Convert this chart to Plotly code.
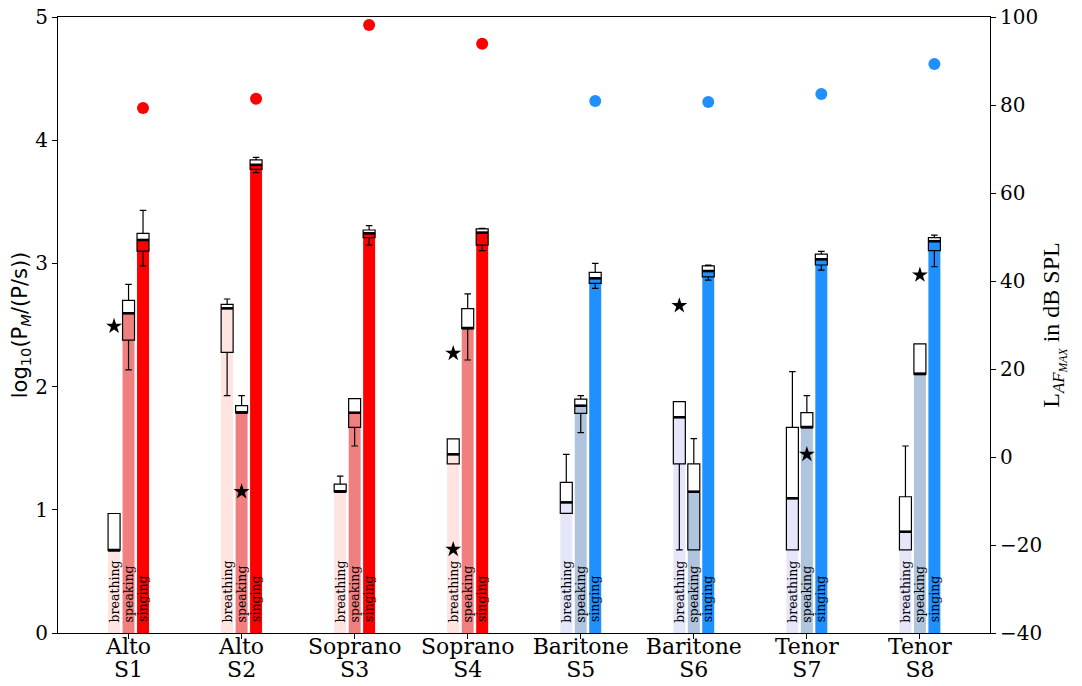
import plotly.graph_objects as go

voices = ["Alto", "Alto", "Soprano", "Soprano", "Baritone", "Baritone", "Tenor", "Tenor"]
subjects = ["S1", "S2", "S3", "S4", "S5", "S6", "S7", "S8"]
conditions = ["breathing", "speaking", "singing"]

# log10(P_M/(P/s)) box statistics per condition, 8 singers each
breathing_med = [0.67, 2.635, 1.147, 1.45, 1.06, 1.751, 1.093, 0.822]
breathing_q1 = [0.67, 2.278, 1.147, 1.372, 0.971, 1.372, 0.674, 0.674]
breathing_q3 = [0.97, 2.668, 1.209, 1.575, 1.223, 1.878, 1.669, 1.106]
breathing_lo = [0.67, 1.926, 1.147, 1.372, 0.971, 0.674, 0.674, 0.674]
breathing_hi = [0.97, 2.711, 1.274, 1.575, 1.45, 1.878, 2.121, 1.518]

speaking_med = [2.595, 1.788, 1.788, 2.473, 1.845, 1.147, 1.669, 2.102]
speaking_q1 = [2.378, 1.788, 1.669, 2.473, 1.783, 0.674, 1.669, 2.102]
speaking_q3 = [2.70, 1.845, 1.902, 2.633, 1.899, 1.372, 1.788, 2.346]
speaking_lo = [2.135, 1.788, 1.518, 2.216, 1.626, 0.674, 1.669, 2.102]
speaking_hi = [2.83, 1.926, 1.902, 2.752, 1.926, 1.578, 1.926, 2.346]

singing_med = [3.19, 3.80, 3.244, 3.25, 2.879, 2.938, 3.033, 3.18]
singing_q1 = [3.10, 3.764, 3.21, 3.149, 2.838, 2.89, 2.987, 3.103]
singing_q3 = [3.244, 3.84, 3.271, 3.28, 2.927, 2.98, 3.076, 3.21]
singing_lo = [2.98, 3.736, 3.149, 3.103, 2.797, 2.865, 2.946, 2.973]
singing_hi = [3.43, 3.861, 3.306, 3.285, 3.0, 2.987, 3.098, 3.23]

# outliers: singer index, condition index, value
outlier_singer = [0, 1, 3, 3, 5, 6, 7]
outlier_cond = [0, 1, 0, 0, 0, 1, 1]
outlier_val = [2.49, 1.147, 2.27, 0.679, 2.657, 1.45, 2.906]

# L_AF_MAX in dB SPL (singing)
spl = [79.3, 81.4, 98.2, 93.9, 80.9, 80.7, 82.5, 89.3]

female_colors = ["#FFE4E1", "#F08080", "#FF0000"]
male_colors = ["#E6E6FA", "#B0C4DE", "#1E90FF"]
is_female = [True, True, True, True, False, False, False, False]

offsets = [-0.128, 0.0, 0.128]
bw = 0.106
n = len(subjects)

stats = [
    (breathing_med, breathing_q1, breathing_q3, breathing_lo, breathing_hi),
    (speaking_med, speaking_q1, speaking_q3, speaking_lo, speaking_hi),
    (singing_med, singing_q1, singing_q3, singing_lo, singing_hi),
]

fig = go.Figure()
serif = "DejaVu Serif"

for ci, (med, q1, q3, lo, hi) in enumerate(stats):
    xs = [i + offsets[ci] for i in range(n)]
    cols = [(female_colors if f else male_colors)[ci] for f in is_female]
    fig.add_trace(go.Bar(x=xs, y=med, width=bw, marker=dict(color=cols, line=dict(width=0)),
                         showlegend=False, hoverinfo="skip"))

for ci, (med, q1, q3, lo, hi) in enumerate(stats):
    xs = [i + offsets[ci] for i in range(n)]
    fig.add_trace(go.Box(x=xs, q1=q1, median=med, q3=q3, lowerfence=lo, upperfence=hi,
                         width=bw, whiskerwidth=0.55, fillcolor="rgba(0,0,0,0)",
                         line=dict(color="black", width=1.2), boxpoints=False,
                         showlegend=False))
    mx, my = [], []
    for x, m in zip(xs, med):
        mx += [x - bw / 2, x + bw / 2, None]
        my += [m, m, None]
    fig.add_trace(go.Scatter(x=mx, y=my, mode="lines", line=dict(color="black", width=2.6),
                             showlegend=False, hoverinfo="skip"))

fig.add_trace(go.Scatter(
    x=[s + offsets[c] for s, c in zip(outlier_singer, outlier_cond)], y=outlier_val,
    mode="markers", marker=dict(symbol="star", size=12, color="black"), showlegend=False))

fig.add_trace(go.Scatter(
    x=[i + offsets[2] for i in range(n)], y=spl, yaxis="y2", mode="markers",
    marker=dict(size=12, color=["#FF0000" if f else "#1E90FF" for f in is_female]),
    showlegend=False))

# invisible carrier trace so the second (subject-label) x axis is drawn
fig.add_trace(go.Scatter(x=list(range(n)), y=speaking_med, xaxis="x2", mode="markers",
                         marker=dict(opacity=0), showlegend=False, hoverinfo="skip"))

annotations = []
for i in range(n):
    for ci, name in enumerate(conditions):
        annotations.append(dict(x=i + offsets[ci], y=0.07, xref="x", yref="y", text=name,
                                textangle=-90, showarrow=False, xanchor="center",
                                yanchor="bottom", font=dict(family=serif, size=12.5, color="black")))

xrange = [-0.624, 7.62]
# page body has an 8px default margin, so the figure is 16px smaller than the window
fig.update_layout(
    width=1066, height=670,
    margin=dict(l=50, r=84, t=9, b=45, autoexpand=False),
    plot_bgcolor="white", paper_bgcolor="white",
    barmode="overlay", boxmode="overlay",
    annotations=annotations,
    xaxis=dict(range=xrange, tickvals=list(range(n)), ticktext=voices,
               showgrid=False, zeroline=False, showline=True, linecolor="black", linewidth=1.2,
               mirror=True, ticks="outside", ticklen=5, tickcolor="black", automargin=False,
               ticklabelstandoff=-12, ticklabeloverflow="allow",
               tickfont=dict(family=serif, size=22, color="black")),
    xaxis2=dict(range=xrange, tickvals=list(range(n)), ticktext=subjects, overlaying="x",
                anchor="y", side="bottom", showgrid=False, zeroline=False, showline=False,
                ticks="outside", ticklen=5, tickcolor="rgba(0,0,0,0)", automargin=False,
                ticklabelstandoff=12, ticklabeloverflow="allow",
                tickfont=dict(family=serif, size=22, color="black")),
    yaxis=dict(range=[0, 5], dtick=1, showgrid=False, zeroline=False, showline=True,
               linecolor="black", linewidth=1.2, ticks="outside", ticklen=5, tickcolor="black",
               automargin=False, ticklabeloverflow="allow",
               tickfont=dict(family=serif, size=20, color="black"),
               title=dict(text="log<sub>10</sub>(P<sub><i>M</i></sub>/(P/s))",
                          font=dict(family="DejaVu Sans", size=21, color="black"), standoff=4)),
    yaxis2=dict(range=[-40, 100], dtick=20, overlaying="y", side="right", showgrid=False,
                zeroline=False, showline=True, linecolor="black", linewidth=1.2,
                ticks="outside", ticklen=5, tickcolor="black", automargin=False,
                ticklabeloverflow="allow",
                tickfont=dict(family=serif, size=20, color="black"),
                title=dict(text="L<sub><i>AF<sub>MAX</sub></i></sub> in dB SPL",
                           font=dict(family="Liberation Serif", size=24, color="black"), standoff=0)),
)

fig.write_html("out.html")
